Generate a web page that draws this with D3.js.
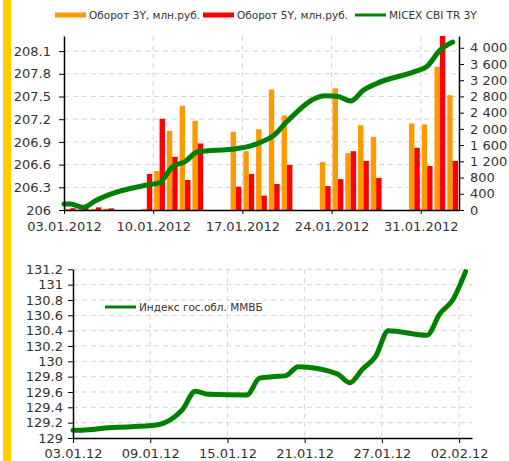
<!DOCTYPE html>
<html>
<head>
<meta charset="utf-8">
<title>MICEX CBI TR 3Y</title>
<script src="https://d3js.org/d3.v7.min.js"></script>
<style>
    body { margin: 0; background: #fff; }
    svg text { font-family: "DejaVu Sans", Verdana, sans-serif; fill: #333; }
    .grid line { stroke: #d4d4d4; stroke-width: 1; stroke-dasharray: 5,4; }
    .axis path, .axis line { stroke: #000; }
    .axis path { stroke-width: 1.5; }
    .axis text { font-size: 13px; }
    .legend text { font-size: 10.5px; }
</style>
</head>
<body>
<svg id="chart" width="509" height="461"></svg>
<script>
// trading days
const days = ["03.01.2012", "04.01.2012", "05.01.2012", "06.01.2012", "09.01.2012", "10.01.2012",
    "11.01.2012", "12.01.2012", "13.01.2012", "16.01.2012", "17.01.2012", "18.01.2012",
    "19.01.2012", "20.01.2012", "23.01.2012", "24.01.2012", "25.01.2012", "26.01.2012",
    "27.01.2012", "30.01.2012", "31.01.2012", "01.02.2012", "02.02.2012"];

// top chart: turnover, mln rub (right axis)
const turnover3Y = [30, 10, 30, 35, 30, 960, 1950, 2570, 2200, 1930, 1450, 1990,
    2970, 2330, 1180, 3000, 1400, 2090, 1800, 2135, 2110, 3530, 2830];
const turnover5Y = [45, 60, 65, 40, 890, 2250, 1310, 740, 1640, 575, 890, 355,
    640, 1110, 590, 760, 1450, 1210, 790, 1535, 1085, 4290, 1210];
// top chart: index (left axis)
const micexCbi = [206.08, 206.035, 206.125, 206.2, 206.33, 206.36, 206.57, 206.64, 206.77, 206.81,
    206.84, 206.9, 206.99, 207.17, 207.51, 207.5, 207.44, 207.585, 207.67, 207.83, 207.9, 208.11, 208.22];

// bottom chart: government bond index
const govBondIndex = [129.10, 129.11, 129.13, 129.14, 129.17, 129.23, 129.37, 129.61, 129.57, 129.56,
    129.78, 129.80, 129.81, 129.93, 129.84, 129.72, 129.90, 130.06, 130.40, 130.34, 130.62, 130.80, 131.17];

const topDateTicks = ["03.01.2012", "10.01.2012", "17.01.2012", "24.01.2012", "31.01.2012"];
const topLeftTicks = [206, 206.3, 206.6, 206.9, 207.2, 207.5, 207.8, 208.1];
const topRightTicks = [0, 400, 800, 1200, 1600, 2000, 2400, 2800, 3200, 3600, 4000];
const bottomDateTicks = ["03.01.12", "09.01.12", "15.01.12", "21.01.12", "27.01.12", "02.02.12"];
const bottomTicks = [129, 129.2, 129.4, 129.6, 129.8, 130, 130.2, 130.4, 130.6, 130.8, 131, 131.2];

const parseLong = d3.timeParse("%d.%m.%Y");
const parseShort = d3.timeParse("%d.%m.%y");
const noon = d => d3.timeHour.offset(d, 12);

const dates = days.map(parseLong);
const xDomain = [parseLong("03.01.2012"), parseLong("03.02.2012")];

const svg = d3.select("#chart");
const numLocale = d3.formatLocale({decimal: ".", thousands: "\u00a0", grouping: [3], currency: ["", ""]});
const fmtThousands = numLocale.format(",");
const fmtShort = d3.format("~g");

// yellow strip at the left edge
svg.append("rect").attr("x", 3).attr("y", 0).attr("width", 8).attr("height", 461).attr("fill", "#ffcc00");

// ---------- top chart ----------
const area1 = {left: 64, right: 459, top: 36, bottom: 210};

const x1 = d3.scaleTime().domain(xDomain).range([area1.left, area1.right]);
const yL = d3.scaleLinear().domain([206, 208.3]).range([area1.bottom, area1.top]);
const yR = d3.scaleLinear().domain([0, 4290]).range([area1.bottom, area1.top]);
const sub = d3.scaleBand().domain(["3Y", "5Y"]).range([-5.4, 5.4]).padding(0);

const g1 = svg.append("g");

g1.append("g").attr("class", "grid")
    .selectAll("line").data(topLeftTicks.slice(1)).join("line")
    .attr("x1", area1.left).attr("x2", area1.right)
    .attr("y1", d => yL(d)).attr("y2", d => yL(d));
g1.append("g").attr("class", "grid")
    .selectAll("line").data(topDateTicks.slice(1).map(parseLong)).join("line")
    .attr("x1", d => x1(d)).attr("x2", d => x1(d))
    .attr("y1", area1.top).attr("y2", area1.bottom);

const barData = dates.map((d, i) => ({date: d, "3Y": turnover3Y[i], "5Y": turnover5Y[i]}));
const barColors = {"3Y": "#ff9900", "5Y": "#ff0000"};

g1.append("g").selectAll("g").data(barData).join("g")
    .attr("transform", d => `translate(${x1(noon(d.date))},0)`)
    .selectAll("rect").data(d => ["3Y", "5Y"].map(k => ({key: k, value: d[k]}))).join("rect")
    .attr("x", d => sub(d.key))
    .attr("width", sub.bandwidth())
    .attr("y", d => yR(d.value))
    .attr("height", d => yR(0) - yR(d.value))
    .attr("fill", d => barColors[d.key]);

const lineTop = d3.line()
    .x(d => x1(d.date)).y(d => yL(d.value))
    .curve(d3.curveMonotoneX);
const topPts = [{date: xDomain[0], value: micexCbi[0]}]
    .concat(dates.map((d, i) => ({date: noon(d), value: micexCbi[i]})));
g1.append("path").datum(topPts)
    .attr("d", lineTop).attr("fill", "none")
    .attr("stroke", "#008000").attr("stroke-width", 5)
    .attr("stroke-linejoin", "round").attr("stroke-linecap", "round");

g1.append("g").attr("class", "axis")
    .attr("transform", `translate(0,${area1.bottom})`)
    .call(d3.axisBottom(x1).tickValues(topDateTicks.map(parseLong))
        .tickFormat(d3.timeFormat("%d.%m.%Y")).tickSize(4).tickPadding(8).tickSizeOuter(0));
g1.append("g").attr("class", "axis")
    .attr("transform", `translate(${area1.left},0)`)
    .call(d3.axisLeft(yL).tickValues(topLeftTicks).tickFormat(fmtShort)
        .tickSize(5).tickPadding(8).tickSizeOuter(0));
g1.append("g").attr("class", "axis")
    .attr("transform", `translate(${area1.right},0)`)
    .call(d3.axisRight(yR).tickValues(topRightTicks).tickFormat(fmtThousands)
        .tickSize(5).tickPadding(6).tickSizeOuter(0));

// legend
const legendTop = [
    {label: "Оборот 3Y, млн.руб.", color: "#ff9900", w: 5, x: 55},
    {label: "Оборот 5Y, млн.руб.", color: "#ff0000", w: 5, x: 203},
    {label: "MICEX CBI TR 3Y", color: "#008000", w: 3, x: 355}
];
const lg1 = svg.append("g").attr("class", "legend")
    .selectAll("g").data(legendTop).join("g")
    .attr("transform", d => `translate(${d.x},15)`);
lg1.append("line").attr("x1", 0).attr("x2", 31)
    .attr("stroke", d => d.color).attr("stroke-width", d => d.w);
lg1.append("text").attr("x", 34).attr("y", 4).text(d => d.label);

// ---------- bottom chart ----------
const area2 = {left: 73, right: 472, top: 269.3, bottom: 438};
const x2 = d3.scaleTime().domain(xDomain).range([area2.left, area2.right]);
const y2 = d3.scaleLinear().domain([129, 131.2]).range([area2.bottom, area2.top]);

const g2 = svg.append("g");
g2.append("g").attr("class", "grid")
    .selectAll("line").data(bottomTicks.slice(1)).join("line")
    .attr("x1", area2.left).attr("x2", area2.right)
    .attr("y1", d => y2(d)).attr("y2", d => y2(d));
g2.append("g").attr("class", "grid")
    .selectAll("line").data(bottomDateTicks.slice(1).map(parseShort)).join("line")
    .attr("x1", d => x2(d)).attr("x2", d => x2(d))
    .attr("y1", area2.top).attr("y2", area2.bottom);

const lineBot = d3.line()
    .x(d => x2(d.date)).y(d => y2(d.value))
    .curve(d3.curveMonotoneX);
const botPts = [{date: xDomain[0], value: govBondIndex[0]}]
    .concat(dates.map((d, i) => ({date: noon(d), value: govBondIndex[i]})));
g2.append("path").datum(botPts)
    .attr("d", lineBot).attr("fill", "none")
    .attr("stroke", "#008000").attr("stroke-width", 5)
    .attr("stroke-linejoin", "round").attr("stroke-linecap", "round");

g2.append("g").attr("class", "axis")
    .attr("transform", `translate(0,${area2.bottom})`)
    .call(d3.axisBottom(x2).tickValues(bottomDateTicks.map(parseShort))
        .tickFormat(d3.timeFormat("%d.%m.%y")).tickSize(5).tickPadding(6).tickSizeOuter(0));
g2.append("g").attr("class", "axis")
    .attr("transform", `translate(${area2.left},0)`)
    .call(d3.axisLeft(y2).tickValues(bottomTicks).tickFormat(fmtShort)
        .tickSize(5).tickPadding(5).tickSizeOuter(0));

const lg2 = svg.append("g").attr("class", "legend").attr("transform", "translate(105,307)");
lg2.append("line").attr("x1", 0).attr("x2", 31).attr("stroke", "#008000").attr("stroke-width", 3);
lg2.append("text").attr("x", 34).attr("y", 4).text("Индекс гос.обл. ММВБ");
</script>
</body>
</html>
